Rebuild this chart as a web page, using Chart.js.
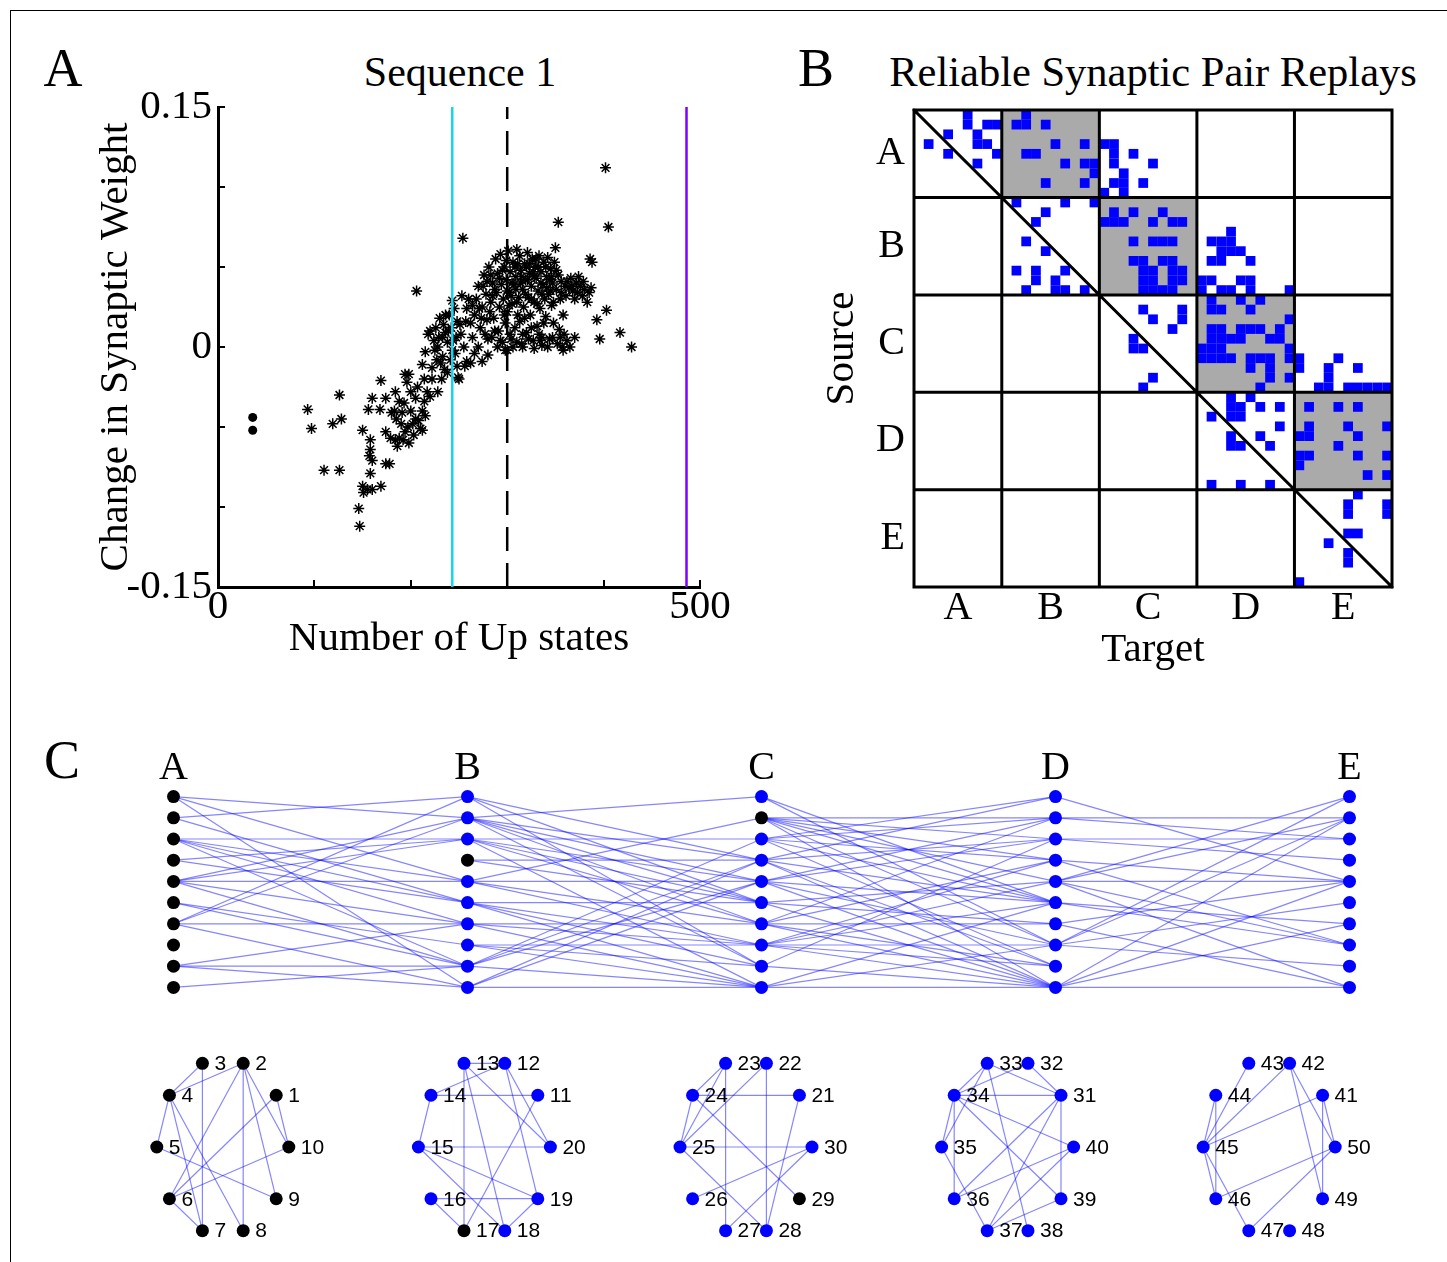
<!DOCTYPE html>
<html>
<head>
<meta charset="utf-8">
<script src="https://cdn.jsdelivr.net/npm/chart.js@4.4.0/dist/chart.umd.min.js"></script>
<style>
  body { margin: 0; background: #fff; width: 1447px; height: 1262px; position: relative; overflow: hidden;
         font-family: "Liberation Serif", "Times New Roman", serif; }
  .frame { position: absolute; left: 10px; top: 10px; width: 1437px; height: 1252px;
           border-left: 1px solid #000; border-top: 1px solid #000; }
  canvas { position: absolute; }
  .txt { position: absolute; transform: translate(-50%, -50%); white-space: nowrap; color: #000; line-height: 1; }
</style>
</head>
<body>
<div class="frame"></div>
<div class="txt" style="left:63px;top:68px;font-size:54px">A</div>
<div class="txt" style="left:816px;top:68px;font-size:54px">B</div>
<div class="txt" style="left:62px;top:760px;font-size:54px">C</div>
<div class="txt" style="left:460px;top:72px;font-size:42px">Sequence 1</div>
<div class="txt" style="left:1153px;top:72px;font-size:42.5px">Reliable Synaptic Pair Replays</div>

<canvas id="seqChart" width="690" height="630" style="left:40px;top:57px"></canvas>
<canvas id="replayChart" width="610" height="630" style="left:800px;top:57px"></canvas>
<canvas id="chainChart" width="1323" height="282" style="left:100px;top:726px"></canvas>
<canvas id="ringChart" width="1308" height="214" style="left:92px;top:1040px"></canvas>

<script>
// ---- panel A: weight change vs number of up states ----
var asteriskPoints = [
  [93,-0.039],[97,-0.051],[119,-0.048],[126,-0.030],[128,-0.045],[110,-0.077],[126,-0.077],
  [146,-0.101],[147,-0.112],[150,-0.087],[151,-0.091],[155,-0.089],[160,-0.089],[169,-0.087],[158,-0.079],
  [157,-0.068],[160,-0.071],[158,-0.064],[158,-0.058],[150,-0.052],[156,-0.039],[160,-0.032],
  [174,-0.073],[178,-0.073],[169,-0.021],[168,-0.039],[174,-0.032],[174,-0.053],[179,-0.057],[184,-0.058],
  [180,-0.041],[184,-0.028],[188,-0.034],[193,-0.035],[196,-0.022],[198,-0.017],[194,-0.017],
  [191,-0.041],[200,-0.040],[205,-0.045],[210,-0.051],[203,-0.055],[194,-0.053],[188,-0.057],
  [185,-0.045],[190,-0.048],[197,-0.050],[202,-0.048],[208,-0.046],[215,-0.043],[212,-0.052],[198,-0.060],
  [192,-0.058],[186,-0.062],[183,-0.040],
  [207,-0.025],[214,-0.034],[217,-0.028],[212,-0.040],[220,-0.031],[205,-0.032],[200,-0.028],
  [212,-0.011],[222,-0.013],[215,-0.003],[225,-0.002],[218,0.008],[228,0.000],[233,-0.006],[236,0.009],
  [238,-0.016],[232,-0.020],[222,-0.020],[228,-0.028],[214,-0.020],
  [226,0.012],[230,0.018],[233,0.006],[236,0.020],[238,0.003],[224,0.004],[220,0.010],[231,-0.010],
  [235,-0.014],[227,-0.008],[206,0.035],[254,0.068],[243,0.029],
  [240,0.020],[242,0.012],[244,0.004],[246,-0.004],[248,-0.012],[250,-0.020],[241,-0.008],[245,0.024],
  [248,0.016],[252,0.008],[255,0.000],[249,-0.019],[256,-0.012],[258,0.024],[260,0.030],[253,0.032],
  [262,0.015],[264,0.006],[266,-0.004],[262,-0.010],[270,0.000],[274,-0.009],[258,-0.009],[280,-0.005],
  [266,0.020],[268,0.030],[270,0.038],[272,0.012],[274,0.025],[276,0.045],[278,0.033],[279,0.017],
  [281,0.050],[280,0.005],[277,0.008],
  [283,0.028],[285,0.040],[286,0.018],[288,0.055],[289,0.034],[290,0.046],[291,0.010],[292,0.025],
  [293,0.058],[294,0.039],[295,0.003],[296,0.030],[297,0.050],[298,0.015],[299,0.042],[300,0.022],
  [284,0.006],[287,0.010],
  [301,0.060],[302,0.034],[303,0.047],[304,0.005],[305,0.027],[306,0.053],[307,0.039],[308,0.012],
  [309,0.044],[310,0.061],[311,0.020],[312,0.031],[313,0.057],[314,0.048],[315,0.002],[316,0.036],
  [317,0.025],[318,0.052],[319,0.042],[320,0.009],[306,0.000],[313,0.016],
  [321,0.059],[322,0.031],[323,0.046],[324,0.020],[325,0.038],[326,0.055],[327,0.004],[328,0.028],
  [329,0.050],[330,0.043],[331,0.013],[332,0.035],[333,0.057],[334,0.024],[335,0.047],[336,0.001],
  [337,0.039],[338,0.053],[339,0.030],[340,0.019],[333,0.008],[325,0.012],
  [341,0.044],[342,0.056],[343,0.033],[344,0.005],[345,0.049],[346,0.026],[347,0.040],[348,0.015],
  [349,0.053],[350,0.062],[351,0.036],[352,0.002],[353,0.045],[354,0.011],[355,0.030],[356,0.041],
  [357,0.000],[358,0.020],[359,0.008],[360,0.038],
  [362,0.041],[364,0.037],[366,0.043],[368,0.035],[370,0.030],[372,0.040],[374,0.044],[376,0.038],
  [378,0.032],[380,0.036],[383,0.028],[385,0.034],[387,0.037],[388,0.053],[386,0.055],[393,0.017],
  [396,0.005],[403,0.023],[417,0.009],[429,0.000],[402,0.112],[405,0.075],[353,0.078],[370,0.006],
  [362,0.004],[365,0.000],[358,-0.002],
  [290,0.000],[293,0.004],[298,-0.002],[303,0.008],[310,0.003],[316,0.000],[322,0.005],[328,-0.001],
  [336,0.006],[342,0.000],[300,-0.002],
  [295,0.048],[305,0.040],[315,0.044],[325,0.030],[335,0.040],[345,0.035],[300,0.035],[310,0.028],
  [320,0.050],[330,0.055],[340,0.050],[285,0.032],[275,0.038],[318,0.018],[338,0.015],[348,0.028],
  [308,0.050],[328,0.044],[297,0.020],[283,0.045],
  [287,0.036],[292,0.043],[299,0.054],[304,0.032],[309,0.036],[314,0.040],[319,0.033],[323,0.052],
  [327,0.047],[331,0.027],[336,0.033],[341,0.037],[346,0.044],[351,0.048],[356,0.034],[311,0.052],
  [321,0.042],[332,0.050],[344,0.042],[302,0.026],[279,0.041],[271,0.024],[264,0.026],[257,0.016],
  [251,0.014],[247,0.006],[239,0.010],[234,0.014],[229,0.006],[243,-0.002],[273,0.018],[282,0.022],
  [367,0.038],[373,0.034],[379,0.041],[361,0.032],[316,0.008],[334,0.004],[347,0.006],[355,0.006]
];
var dotPoints = [[36,-0.044],[36,-0.052]];
var markerX = [243, 300, 486];          // cyan, dashed black, purple
var xTickValues = [0, 100, 200, 300, 400, 500];
var xTickLabels = ['0', '', '', '', '', '500'];
var yTickValues = [-0.15, -0.1, -0.05, 0, 0.05, 0.1, 0.15];
var yTickLabels = ['-0.15', '', '', '0', '', '', '0.15'];

// ---- panel B: reliable replay matrix (row = source, col = target) ----
var blockNames = ['A', 'B', 'C', 'D', 'E'];
var blockCenters = [5.5, 15, 25, 35, 45];
var blockEdges = [1, 10, 20, 30, 40, 50];
var shadedBlocks = [[0, 1], [1, 2], [2, 3], [3, 4]];
var replayCells = [
  [1,6],[2,6],[2,8],[2,9],[3,4],[3,7],[4,2],[4,7],[4,8],[5,4],[5,9],[6,7],
  [1,12],[2,11],[2,12],[2,14],[4,15],[4,18],[5,12],[5,13],[6,16],[6,18],[6,19],[7,19],[8,14],[8,18],
  [4,20],[4,21],[5,21],[5,23],[6,21],[6,25],[7,22],[8,21],[8,22],[8,24],[9,20],[9,22],
  [10,11],[10,16],[10,19],[11,14],[12,13],[14,12],[15,14],[17,11],[17,13],[17,16],[18,13],[18,15],
  [19,12],[19,15],[19,16],[19,18],
  [11,21],[11,23],[11,26],[12,20],[12,21],[12,22],[12,25],[12,27],[12,28],[14,23],[14,25],[14,26],
  [14,27],[16,23],[16,24],[16,26],[16,27],[17,24],[17,25],[17,27],[17,28],[18,24],[18,25],[18,27],
  [18,28],[19,24],[19,25],[19,26],[19,27],
  [13,33],[14,31],[14,32],[14,33],[15,32],[15,33],[15,34],[16,31],[16,32],[16,35],[18,30],[18,31],
  [18,34],[18,35],[19,30],[19,32],[19,33],[19,35],[19,39],
  [21,24],[21,28],[22,25],[22,28],[23,27],[24,23],[25,23],[25,24],[28,25],[29,24],
  [20,31],[20,34],[20,36],[21,31],[21,32],[21,35],[22,39],[23,31],[23,32],[23,34],[23,35],[23,36],
  [23,38],[24,31],[24,32],[24,33],[24,34],[24,37],[24,38],[25,30],[25,31],[25,32],[25,39],[26,30],
  [26,31],[26,32],[26,33],[26,35],[26,36],[26,37],[26,39],[27,35],[27,37],[28,37],[28,39],[29,36],
  [26,40],[26,44],[27,40],[27,43],[27,46],[28,43],[29,42],[29,43],[29,45],[29,46],[29,47],[29,48],[29,49],
  [30,33],[30,35],[31,33],[31,34],[31,36],[31,38],[32,31],[32,33],[32,34],[33,38],[34,33],[34,36],
  [35,33],[35,34],[35,37],[39,31],[39,34],[39,37],
  [31,41],[31,44],[31,46],[33,41],[33,45],[33,49],[34,40],[34,41],[34,46],[35,44],[36,40],[36,41],
  [36,46],[36,49],[37,40],[38,47],[38,49],
  [40,46],[41,45],[41,49],[42,45],[42,49],[44,45],[44,46],[45,43],[46,45],[47,45],[49,40]
];

// ---- panel C: neurons 1..50 in groups A..E, replayed connections ----
var nodesPerGroup = 10;
var groupCount = 5;
var silentNodes = [1, 2, 3, 4, 5, 6, 7, 8, 9, 10, 17, 29];
var crossEdges = [
  [10,19],[10,16],[10,11],[9,20],[9,15],[8,18],[8,16],[8,15],[8,14],[8,12],[7,18],[7,15],[6,19],[6,18],
  [6,16],[6,14],[6,12],[5,13],[5,12],[4,20],[4,19],[4,14],[4,11],[2,14],[2,12],[2,11],[1,12],
  [20,27],[20,25],[20,22],[19,30],[19,27],[19,26],[19,25],[19,24],[19,22],[18,28],[18,26],[18,25],
  [18,24],[18,21],[17,27],[17,25],[16,29],[16,26],[16,24],[16,23],[15,25],[15,23],[15,22],[15,21],
  [14,24],[14,23],[14,21],[13,23],[13,22],[13,21],[12,28],[12,27],[12,26],[12,21],[11,27],[11,26],[11,21],
  [30,35],[30,33],[29,39],[29,38],[29,37],[29,36],[29,35],[29,33],[29,31],[28,40],[28,39],[28,37],
  [28,35],[28,32],[27,40],[27,38],[27,35],[27,32],[27,31],[26,39],[26,38],[26,35],[26,33],[26,31],
  [25,36],[25,34],[25,31],[24,39],[24,37],[24,34],[24,32],[24,31],[23,37],[23,36],[23,35],[23,33],
  [23,32],[23,31],[22,38],[22,31],[21,35],[21,33],[21,31],
  [40,46],[39,49],[39,48],[38,48],[38,47],[37,46],[37,43],[36,50],[36,49],[36,46],[36,43],[36,41],
  [35,44],[35,43],[34,46],[34,41],[33,50],[33,49],[33,45],[33,42],[31,49],[31,46],[31,44],[31,41]
];
var groupEdges = [
  [3,4],[2,4],[3,7],[4,5],[4,7],[4,8],[2,6],[2,8],[2,9],[2,10],[1,10],[1,6],[5,9],[6,10],[6,7],
  [12,13],[12,14],[11,14],[13,17],[13,18],[13,20],[12,20],[12,19],[14,15],[15,20],[15,19],[15,18],
  [16,19],[16,17],[11,17],[18,19],
  [23,24],[23,25],[23,27],[24,25],[22,25],[22,28],[21,24],[24,29],[25,30],[25,28],[21,28],[26,30],[27,30],
  [33,34],[33,35],[31,33],[33,38],[31,32],[32,34],[31,34],[34,35],[34,36],[34,40],[34,39],[31,36],
  [31,37],[31,39],[35,37],[36,40],[37,40],[37,39],
  [43,45],[42,45],[44,45],[44,46],[41,45],[42,50],[42,49],[41,49],[41,50],[45,46],[45,47],[46,50],[47,50]
];

var serif = '"Liberation Serif", "Times New Roman", serif';
var BLUE = '#0000ff';
var EDGE = 'rgba(0,0,255,0.48)';
Chart.defaults.font.family = serif;
Chart.defaults.color = '#000';

function noPad(s) { s.paddingLeft = 0; s.paddingRight = 0; s.paddingTop = 0; s.paddingBottom = 0; }
var common = { responsive: false, animation: false, events: [],
  plugins: { legend: { display: false }, tooltip: { enabled: false } } };

// ---------- panel A ----------
var markerStyles = [
  { borderColor: '#17d4f0', borderDash: [] },
  { borderColor: '#000000', borderDash: [24, 12] },
  { borderColor: '#7f00ff', borderDash: [] }
];
var markerSets = markerX.map(function(v, i) {
  return { data: [{ x: v, y: -0.15 }, { x: v, y: 0.15 }], showLine: true, pointRadius: 0,
           borderWidth: 2.5, borderColor: markerStyles[i].borderColor, borderDash: markerStyles[i].borderDash };
});
new Chart(document.getElementById('seqChart'), {
  type: 'scatter',
  data: { datasets: markerSets.concat([
    { data: asteriskPoints.map(function(p) { return { x: p[0], y: p[1] }; }),
      pointStyle: 'star', pointRadius: 5.5, pointBorderWidth: 1.5, borderColor: '#000', backgroundColor: '#000' },
    { data: dotPoints.map(function(p) { return { x: p[0], y: p[1] }; }),
      pointStyle: 'circle', pointRadius: 4.5, pointBorderWidth: 0, backgroundColor: '#000' }
  ]) },
  options: Object.assign({}, common, {
    layout: { autoPadding: false, padding: { top: 50, right: 30, bottom: 0, left: 0 } },
    scales: {
      x: { type: 'linear', min: 0, max: 500,
        afterBuildTicks: function(s) { s.ticks = xTickValues.map(function(v) { return { value: v }; }); },
        afterFit: function(s) { s.height = 100; noPad(s); },
        grid: { drawOnChartArea: false, color: '#000', lineWidth: 2, tickLength: -7 },
        border: { color: '#000', width: 3 },
        ticks: { autoSkip: false, maxRotation: 0, padding: 7, font: { size: 41, lineHeight: 1 },
                 callback: function(v, i) { return xTickLabels[i]; } },
        title: { display: true, text: 'Number of Up states', font: { size: 41 }, padding: { top: 0, bottom: 23 } } },
      y: { type: 'linear', min: -0.15, max: 0.15,
        afterBuildTicks: function(s) { s.ticks = yTickValues.map(function(v) { return { value: v }; }); },
        afterFit: function(s) { s.width = 178; noPad(s); },
        grid: { drawOnChartArea: false, color: '#000', lineWidth: 2, tickLength: -7 },
        border: { color: '#000', width: 3 },
        ticks: { autoSkip: false, padding: 13, font: { size: 41, lineHeight: 1 },
                 callback: function(v, i) { return yTickLabels[i]; } },
        title: { display: true, text: 'Change in Synaptic Weight', font: { size: 41 }, padding: { top: 52, bottom: 0 } } }
    }
  })
});

// ---------- panel B ----------
var matrixFrame = {
  id: 'matrixFrame',
  beforeDatasetsDraw: function(chart) {
    var ctx = chart.ctx, x = chart.scales.x, y = chart.scales.y;
    ctx.save();
    ctx.fillStyle = '#aaaaaa';
    shadedBlocks.forEach(function(b) {
      var x0 = x.getPixelForValue(blockEdges[b[1]]), x1 = x.getPixelForValue(blockEdges[b[1] + 1]);
      var y0 = y.getPixelForValue(blockEdges[b[0]]), y1 = y.getPixelForValue(blockEdges[b[0] + 1]);
      ctx.fillRect(x0, y0, x1 - x0, y1 - y0);
    });
    ctx.restore();
  },
  afterDatasetsDraw: function(chart) {
    var ctx = chart.ctx, x = chart.scales.x, y = chart.scales.y;
    var lo = blockEdges[0], hi = blockEdges[blockEdges.length - 1];
    ctx.save();
    ctx.strokeStyle = '#000';
    ctx.lineWidth = 3;
    ctx.lineCap = 'square';
    ctx.beginPath();
    blockEdges.forEach(function(v) {
      var px = x.getPixelForValue(v), py = y.getPixelForValue(v);
      ctx.moveTo(px, y.getPixelForValue(lo)); ctx.lineTo(px, y.getPixelForValue(hi));
      ctx.moveTo(x.getPixelForValue(lo), py); ctx.lineTo(x.getPixelForValue(hi), py);
    });
    ctx.moveTo(x.getPixelForValue(lo), y.getPixelForValue(lo));
    ctx.lineTo(x.getPixelForValue(hi), y.getPixelForValue(hi));
    ctx.stroke();
    ctx.restore();
  }
};
function cellRadius(c) {
  var s = c.chart.scales.x;
  return Math.abs(s.getPixelForValue(2) - s.getPixelForValue(1)) / Math.SQRT2;
}
var blockAxis = {
  type: 'linear', min: blockEdges[0], max: blockEdges[blockEdges.length - 1],
  afterBuildTicks: function(s) { s.ticks = blockCenters.map(function(v) { return { value: v }; }); },
  grid: { display: false, drawTicks: false }, border: { display: false }
};
new Chart(document.getElementById('replayChart'), {
  type: 'scatter',
  data: { datasets: [{
    data: replayCells.map(function(c) { return { x: c[1] + 0.5, y: c[0] + 0.5 }; }),
    pointStyle: 'rect', pointRadius: cellRadius, pointBorderWidth: 0, backgroundColor: BLUE, borderColor: BLUE
  }] },
  options: Object.assign({}, common, {
    layout: { autoPadding: false, padding: { top: 53, right: 18, bottom: 0, left: 0 } },
    scales: {
      x: Object.assign({}, blockAxis, {
        afterFit: function(s) { s.height = 100; noPad(s); },
        ticks: { autoSkip: false, maxRotation: 0, padding: 1, font: { size: 40, lineHeight: 1 },
                 callback: function(v, i) { return blockNames[i]; } },
        title: { display: true, text: 'Target', font: { size: 41 }, padding: { top: 0, bottom: 12 } } }),
      y: Object.assign({}, blockAxis, { reverse: true,
        afterFit: function(s) { s.width = 114; noPad(s); },
        ticks: { autoSkip: false, padding: 9, font: { size: 40, lineHeight: 1 },
                 callback: function(v, i) { return blockNames[i]; } },
        title: { display: true, text: 'Source', font: { size: 41 }, padding: { top: 18, bottom: 0 } } })
    }
  }),
  plugins: [matrixFrame]
});

// ---------- panel C helpers ----------
var nodeIds = [];
for (var n = 1; n <= nodesPerGroup * groupCount; n++) nodeIds.push(n);
function groupOf(id) { return Math.floor((id - 1) / nodesPerGroup); }
function slotOf(id) { return (id - 1) % nodesPerGroup + 1; }
function nodeColor(id) { return silentNodes.indexOf(id) >= 0 ? '#000000' : BLUE; }

function edgeSets(edges, pos) {
  return edges.map(function(e) {
    return { data: [pos(e[0]), pos(e[1])], showLine: true, pointRadius: 0,
             borderColor: EDGE, borderWidth: 1.2 };
  });
}
function nodeSet(pos) {
  return { data: nodeIds.map(pos), pointRadius: 6.5, pointBorderWidth: 0,
           backgroundColor: nodeIds.map(nodeColor), borderColor: nodeIds.map(nodeColor) };
}

// ---------- panel C, chain layout ----------
function chainPos(id) { return { x: groupOf(id), y: slotOf(id) }; }
new Chart(document.getElementById('chainChart'), {
  type: 'scatter',
  data: { datasets: [nodeSet(chainPos)].concat(edgeSets(crossEdges, chainPos)) },
  options: Object.assign({}, common, {
    layout: { autoPadding: false, padding: { top: 0, right: 0, bottom: 10, left: 0 } },
    scales: {
      x: { type: 'linear', position: 'top', min: -0.25, max: groupCount - 0.75,
        afterBuildTicks: function(s) { s.ticks = blockNames.map(function(b, i) { return { value: i }; }); },
        afterFit: function(s) { s.height = 60; noPad(s); },
        grid: { display: false, drawTicks: false }, border: { display: false },
        ticks: { autoSkip: false, maxRotation: 0, padding: -2, font: { size: 40, lineHeight: 1 },
                 callback: function(v, i) { return blockNames[i]; } } },
      y: { type: 'linear', display: false, min: 0.5, max: nodesPerGroup + 0.5 }
    }
  })
});

// ---------- panel C, within-group rings ----------
var ringRx = 0.2523;
function ringPos(id) {
  var a = slotOf(id) * 2 * Math.PI / nodesPerGroup;
  return { x: groupOf(id) + ringRx * Math.cos(a), y: Math.sin(a) };
}
var nodeLabels = {
  id: 'nodeLabels',
  afterDatasetsDraw: function(chart) {
    var ctx = chart.ctx, meta = chart.getDatasetMeta(0);
    ctx.save();
    ctx.fillStyle = '#000';
    ctx.font = '21px "Liberation Sans", Arial, sans-serif';
    ctx.textAlign = 'left';
    ctx.textBaseline = 'middle';
    meta.data.forEach(function(el, i) { ctx.fillText(String(nodeIds[i]), el.x + 12, el.y + 1); });
    ctx.restore();
  }
};
new Chart(document.getElementById('ringChart'), {
  type: 'scatter',
  data: { datasets: [nodeSet(ringPos)].concat(edgeSets(groupEdges, ringPos)) },
  options: Object.assign({}, common, {
    layout: { autoPadding: false, padding: 0 },
    scales: {
      x: { type: 'linear', display: false, min: -0.5, max: groupCount - 0.5 },
      y: { type: 'linear', display: false, min: -1.216, max: 1.216 }
    }
  }),
  plugins: [nodeLabels]
});
</script>
</body>
</html>
